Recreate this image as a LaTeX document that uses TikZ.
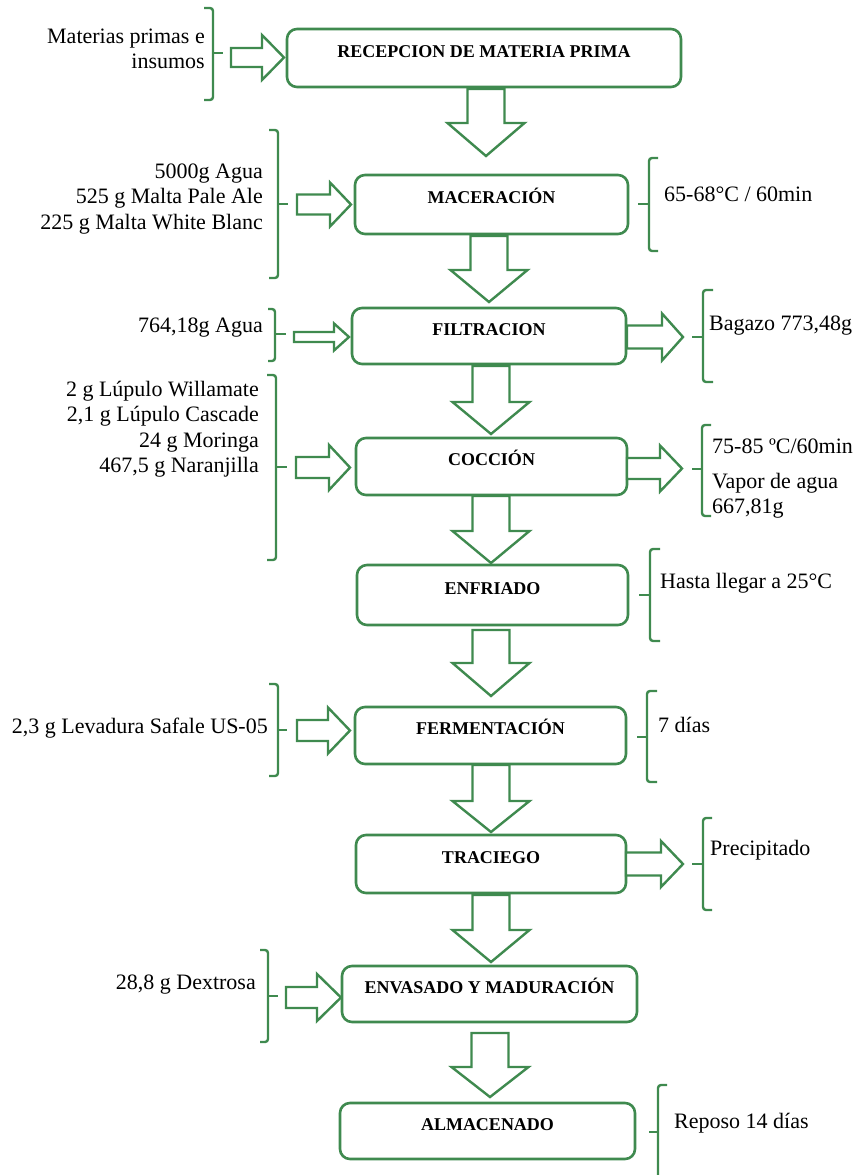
\documentclass[tikz,border=0pt]{standalone}
\usepackage{fontspec}
\setmainfont{Liberation Serif}
\definecolor{grn}{RGB}{63,138,79}
\newcommand\blkdown[4]{% cx, top, base, tip
  \draw[blk] (#1-18.5,#2) -- (#1+18.5,#2) -- (#1+18.5,#3) -- (#1+38.5,#3) -- (#1,#4) -- (#1-38.5,#3) -- (#1-18.5,#3) -- cycle;}
\newcommand\blkright[6]{% xleft, xbase, xtip, cy, shaft half, head half
  \draw[blk] (#1,#4-#5) -- (#2,#4-#5) -- (#2,#4-#6) -- (#3,#4) -- (#2,#4+#6) -- (#2,#4+#5) -- (#1,#4+#5) -- cycle;}
\newcommand\brk[6]{% x, top, bottom, hook x, tick y, tick x
  \draw[brc] (#4,#2) -- (#1,#2) -- (#1,#3) -- (#4,#3);
  \draw[brc] (#1,#5) -- (#6,#5);}
\begin{document}
\begin{tikzpicture}[x=1pt,y=-1pt,
  box/.style={draw=grn, line width=2.6pt, rounded corners=10pt, fill=white,
    font=\fontsize{18}{20}\selectfont\bfseries, text height=12pt, text depth=14pt, inner sep=0pt},
  lbl/.style={font=\fontsize{22}{25.5}\selectfont, inner sep=0pt},
  blk/.style={draw=grn, line width=2.4pt, fill=white, line join=miter},
  brc/.style={draw=grn, line width=2.4pt, rounded corners=3pt}]
\useasboundingbox (0,0) rectangle (854,1175);

% process boxes
\node[box, minimum width=394pt, minimum height=58pt] (b1) at (484,58) {RECEPCION DE MATERIA PRIMA};
\node[box, minimum width=273pt, minimum height=59pt] (b2) at (491.5,204.5) {MACERACIÓN};
\node[box, minimum width=274pt, minimum height=56pt] (b3) at (489,336) {FILTRACION};
\node[box, minimum width=271pt, minimum height=57pt] (b4) at (491.5,466.5) {COCCIÓN};
\node[box, minimum width=271pt, minimum height=60pt] (b5) at (492.5,595) {ENFRIADO};
\node[box, minimum width=271pt, minimum height=57pt] (b6) at (490.5,735.5) {FERMENTACIÓN};
\node[box, minimum width=270pt, minimum height=58pt] (b7) at (491,864) {TRACIEGO};
\node[box, minimum width=295pt, minimum height=56pt] (b8) at (489.5,994) {ENVASADO Y MADURACIÓN};
\node[box, minimum width=295pt, minimum height=56pt] (b9) at (487.5,1131) {ALMACENADO};

% down block arrows
\blkdown{486}{89}{123}{156}
\blkdown{489}{236}{270}{302}
\blkdown{491}{366}{402}{434}
\blkdown{491}{496}{531}{563}
\blkdown{491}{630}{663}{696}
\blkdown{491}{765}{801}{832}
\blkdown{491}{895}{930}{962}
\blkdown{490}{1033}{1067}{1097}

% right block arrows
\blkright{231}{262}{284}{57.5}{9.5}{22.5}
\blkright{297}{330}{351}{204.5}{10}{22}
\blkright{294}{334}{349}{337}{5}{13.5}
\blkright{627}{662}{683}{337}{11.5}{23.5}
\blkright{296}{329}{350}{467.5}{10.5}{22.5}
\blkright{627}{660}{682}{468.5}{10.5}{23}
\blkright{297}{328}{350}{730.5}{10.5}{23}
\blkright{626}{661}{683}{864}{11.5}{23}
\blkright{286}{317}{341}{997.5}{10.5}{23.5}

% braces
\brk{213}{8}{100}{204}{53}{223}
\brk{278}{130}{278}{269}{204}{288}
\brk{275}{309}{361}{268}{334}{286}
\brk{276}{375}{560}{267}{467}{287}
\brk{278}{684}{776}{269}{730}{287}
\brk{268}{950}{1042}{260}{996}{278}
\brk{649}{158}{251}{658}{204}{638}
\brk{703}{290}{382}{713}{337}{692}
\brk{702}{425}{516}{711}{469}{692}
\brk{650}{549}{641}{660}{595}{639}
\brk{647}{691}{782}{657}{737}{637}
\brk{703}{818}{910}{712}{864}{692}
\brk{658}{1085}{1180}{667}{1132}{649}

% left labels
\node[lbl, anchor=base east] (t0) at (205,43) {\begin{tabular}[t]{@{}r@{}}Materias primas e\\insumos\end{tabular}};
\node[lbl, anchor=base east] (t1) at (263,178) {\begin{tabular}[t]{@{}r@{}}5000g Agua\\525 g Malta Pale Ale\\225 g Malta White Blanc\end{tabular}};
\node[lbl, anchor=base east] (t2) at (263,332) {764,18g Agua};
\node[lbl, anchor=base east] (t3) at (259,396) {\begin{tabular}[t]{@{}r@{}}2 g Lúpulo Willamate\\2,1 g Lúpulo Cascade\\24 g Moringa\\467,5 g Naranjilla\end{tabular}};
\node[lbl, anchor=base east] (t4) at (268,733) {2,3 g Levadura Safale US-05};
\node[lbl, anchor=base east] (t5) at (256,989) {28,8 g Dextrosa};

% right labels
\node[lbl, anchor=base west] (r0) at (664,201) {65-68°C / 60min};
\node[lbl, anchor=base west] (r1) at (709,330) {Bagazo 773,48g};
\node[lbl, anchor=base west] (r2) at (712,453) {75-85 ºC/60min};
\node[lbl, anchor=base west] (r3) at (712,488) {\begin{tabular}[t]{@{}l@{}}Vapor de agua\\667,81g\end{tabular}};
\node[lbl, anchor=base west] (r4) at (660,588) {Hasta llegar a 25°C};
\node[lbl, anchor=base west] (r5) at (658,732) {7 días};
\node[lbl, anchor=base west] (r6) at (710,855) {Precipitado};
\node[lbl, anchor=base west] (r7) at (674,1128) {Reposo 14 días};
\end{tikzpicture}
\end{document}
